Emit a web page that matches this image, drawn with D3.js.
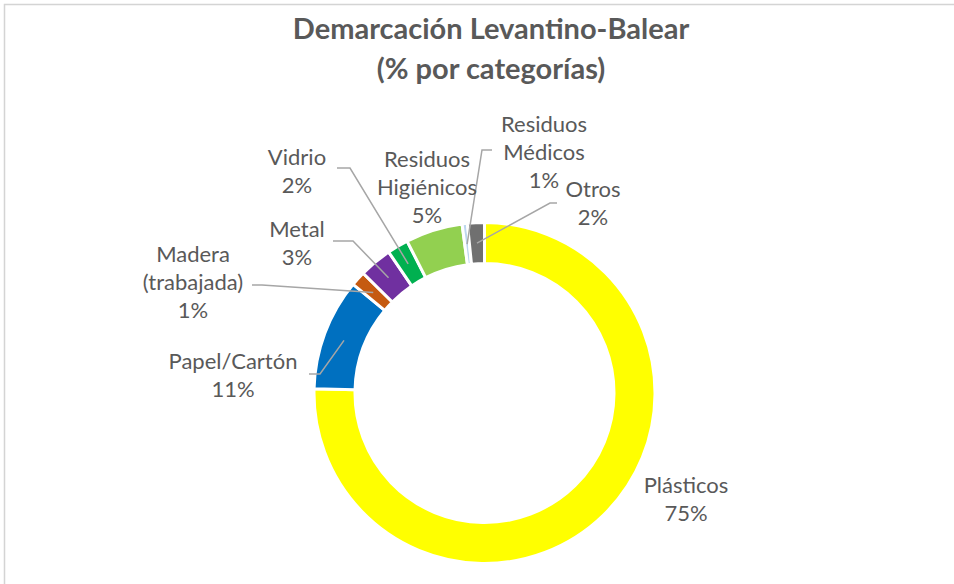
<!DOCTYPE html>
<html>
<head>
<meta charset="utf-8">
<script src="https://cdn.jsdelivr.net/npm/d3@7"></script>
<style>
  html, body { margin: 0; padding: 0; background: #fff; }
  svg { display: block; }
</style>
</head>
<body>
<svg id="chart" width="954" height="584"></svg>
<script>
// ---- data (clockwise from 12 o'clock) ----
const categories = ["Plásticos", "Papel/Cartón", "Madera (trabajada)", "Metal", "Vidrio", "Residuos Higiénicos", "Residuos Médicos", "Otros"];
const values     = [75.4, 10.6, 1.4, 3.1, 2.0, 5.4, 0.5, 1.6];
const colors     = ["#FFFF00", "#0070C0", "#C55A11", "#7030A0", "#00B050", "#92D050", "#BDD7EE", "#707070"];
const titleLines = ["Demarcación Levantino-Balear", "(% por categorías)"];
const nameLines  = [["Plásticos"], ["Papel/Cartón"], ["Madera", "(trabajada)"], ["Metal"], ["Vidrio"], ["Residuos", "Higiénicos"], ["Residuos", "Médicos"], ["Otros"]];

// ---- layout (positions only) ----
const labelPos = [
  {cx: 686, y: 493},
  {cx: 233, y: 369},
  {cx: 193, y: 262},
  {cx: 297, y: 237},
  {cx: 297, y: 165},
  {cx: 427, y: 167},
  {cx: 544, y: 132},
  {cx: 593, y: 197}
];
const leaders = [
  null,
  {x0: 309, y0: 374, x1: 320},
  {x0: 252, y0: 285, x1: 262},
  {x0: 333, y0: 241, x1: 353},
  {x0: 337, y0: 168, x1: 350},
  null,
  {x0: 492, y0: 150, x1: 482},
  {x0: 557, y0: 203, x1: 550}
];

const svg = d3.select("#chart");
const cx = 484.5, cy = 393;
const outerR = 170.5, innerR = 129.5;
const lineH = 28;
const font = "Lato, 'Open Sans', sans-serif";
const textColor = "#595959";

// frame
svg.append("rect").attr("x", 4.5).attr("y", 4.5).attr("width", 970).attr("height", 600)
  .attr("fill", "#fff").attr("stroke", "#D4D4D4").attr("stroke-width", 1.5);

// title
const title = svg.append("text")
  .attr("text-anchor", "middle")
  .attr("font-family", font).attr("font-weight", "bold")
  .attr("font-size", 29).attr("fill", textColor);
titleLines.forEach((t, i) => {
  title.append("tspan").attr("x", 491).attr("y", 39 + i * 40).text(t);
});

// donut
const data = categories.map((c, i) => ({name: c, value: values[i], i}));
const pie = d3.pie().sort(null).value(d => d.value).startAngle(0).endAngle(2 * Math.PI);
const arcs = pie(data);
const arc = d3.arc().innerRadius(innerR).outerRadius(outerR);
const midArc = d3.arc().innerRadius(150).outerRadius(150);

const g = svg.append("g").attr("transform", `translate(${cx},${cy})`);
g.selectAll("path.slice").data(arcs).join("path")
  .attr("class", "slice")
  .attr("d", arc)
  .attr("fill", d => colors[d.data.i])
  .attr("stroke", "#fff").attr("stroke-width", 3).attr("stroke-linejoin", "miter");

// leader lines
arcs.forEach(a => {
  const L = leaders[a.data.i];
  if (!L) return;
  const c = midArc.centroid(a);
  const pts = [[L.x0, L.y0], [L.x1, L.y0], [cx + c[0], cy + c[1]]];
  svg.append("path")
    .attr("d", d3.line()(pts))
    .attr("fill", "none").attr("stroke", "#A6A6A6").attr("stroke-width", 1.5);
});

// labels
const fmt = v => Math.round(v) + "%";
arcs.forEach(a => {
  const i = a.data.i;
  const lines = nameLines[i].concat([fmt(values[i])]);
  const t = svg.append("text")
    .attr("text-anchor", "middle")
    .attr("font-family", font).attr("font-size", 22).attr("fill", textColor);
  lines.forEach((s, k) => {
    t.append("tspan").attr("x", labelPos[i].cx).attr("y", labelPos[i].y + k * lineH).text(s);
  });
});
</script>
</body>
</html>
